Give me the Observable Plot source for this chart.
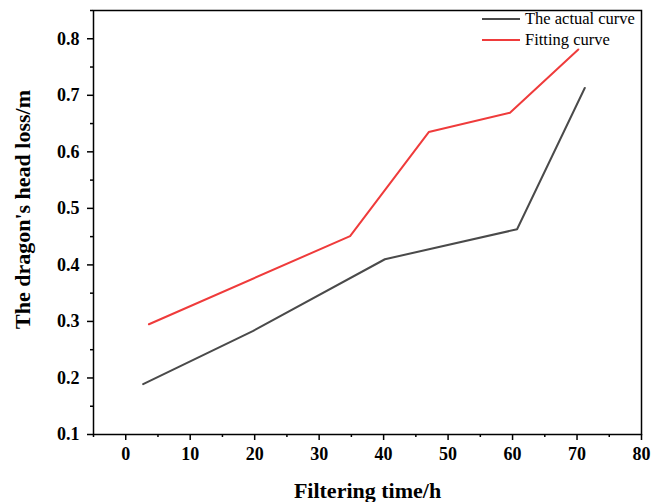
<!DOCTYPE html>
<html><head><meta charset="utf-8">
<script src="https://cdn.jsdelivr.net/npm/d3@7"></script>
<script src="https://cdn.jsdelivr.net/npm/@observablehq/plot@0.6"></script>
<style>
body{margin:0;background:#fff;}
#wrap{position:relative;width:652px;height:502px;}
.legend{position:absolute;left:482px;top:8px;font:16.5px "Liberation Serif",serif;color:#000;}
.row{display:flex;align-items:center;height:21px;white-space:nowrap;}
.sw{width:38px;height:0;border-top:2px solid;margin-right:5px;}
</style></head><body><div id="wrap"></div>
<script>
const actualTime = [2.7, 19.7, 40.2, 60.7, 71.2];
const actualLoss = [0.189, 0.283, 0.410, 0.463, 0.713];
const fitTime = [3.6, 34.8, 47.0, 59.6, 70.2];
const fitLoss = [0.295, 0.451, 0.635, 0.669, 0.781];
const xTicks = [0, 10, 20, 30, 40, 50, 60, 70, 80];
const xMinorTicks = [-5, 5, 15, 25, 35, 45, 55, 65, 75];
const yTicks = [0.1, 0.2, 0.3, 0.4, 0.5, 0.6, 0.7, 0.8];
const yMinorTicks = [0.15, 0.25, 0.35, 0.45, 0.55, 0.65, 0.75, 0.85];
const seriesNames = ["The actual curve", "Fitting curve"];
const seriesColors = ["#4a4a4a", "#ef3b3b"];

const actual = actualTime.map((t, i) => ({t, v: actualLoss[i]}));
const fit = fitTime.map((t, i) => ({t, v: fitLoss[i]}));

const plot = Plot.plot({
  width: 652, height: 502,
  marginLeft: 93, marginRight: 11, marginTop: 10, marginBottom: 68,
  style: {fontFamily: '"Liberation Serif", "Times New Roman", serif', fontSize: "18px", fontWeight: "bold", color: "#000", background: "#fff"},
  x: {domain: [-5, 80]},
  y: {domain: [0.1, 0.85]},
  marks: [
    Plot.axisX(xMinorTicks, {tickSize: 3, text: null, strokeWidth: 1.5, label: null}),
    Plot.axisX(xTicks, {tickSize: 6, tickPadding: 7, strokeWidth: 1.5, label: null, fontWeight: "bold"}),
    Plot.axisY(yMinorTicks, {tickSize: 3, text: null, strokeWidth: 1.5, label: null}),
    Plot.axisY(yTicks, {tickSize: 6, tickPadding: 8, strokeWidth: 1.5, label: null, fontWeight: "bold", tickFormat: d3.format(".1f")}),
    Plot.line(actual, {x: "t", y: "v", stroke: seriesColors[0], strokeWidth: 2}),
    Plot.line(fit, {x: "t", y: "v", stroke: seriesColors[1], strokeWidth: 2}),
    Plot.frame({stroke: "#000", strokeWidth: 1.5}),
    Plot.text(["Filtering time/h"], {frameAnchor: "bottom", dy: 56, fontSize: 22, fontWeight: "bold", lineAnchor: "middle"}),
    Plot.text(["The dragon's head loss/m"], {frameAnchor: "left", textAnchor: "middle", dx: -71, dy: -13, rotate: -90, fontSize: 22, fontWeight: "bold", lineAnchor: "middle"})
  ]
});
const wrap = document.getElementById("wrap");
wrap.appendChild(plot);
const leg = document.createElement("div");
leg.className = "legend";
seriesNames.forEach((n, i) => {
  const r = document.createElement("div"); r.className = "row";
  const s = document.createElement("span"); s.className = "sw"; s.style.borderColor = seriesColors[i];
  const t = document.createElement("span"); t.textContent = n;
  r.appendChild(s); r.appendChild(t); leg.appendChild(r);
});
wrap.appendChild(leg);
</script></body></html>
